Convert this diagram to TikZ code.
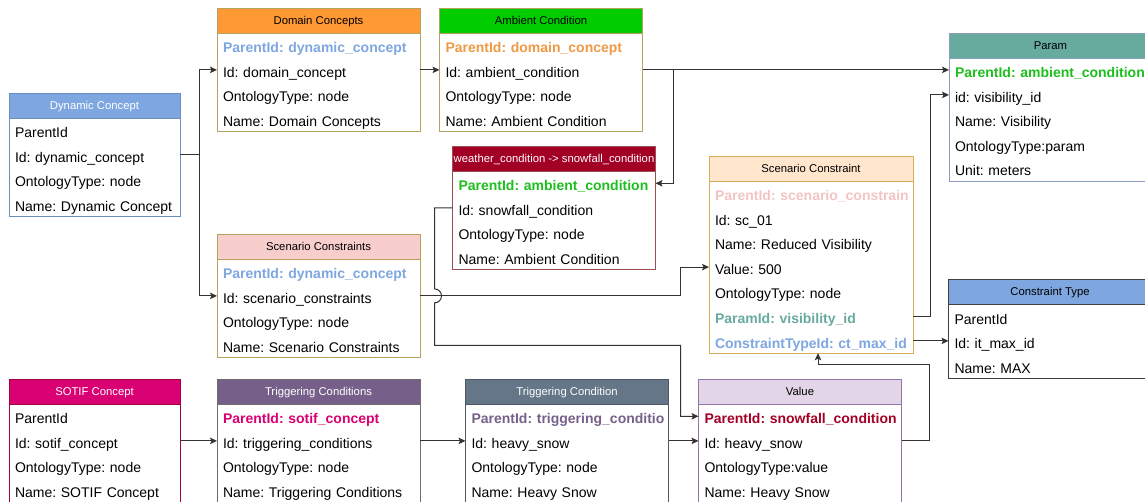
\documentclass[tikz,border=0pt]{standalone}
\usepackage{fontspec}
\setmainfont{Liberation Sans}
\usepackage{tikz}
\usetikzlibrary{arrows.meta, calc}
\usepackage{xcolor}
\frenchspacing

\definecolor{dynblue}{HTML}{7EA6E0}
\definecolor{dynline}{HTML}{6C8EBF}
\definecolor{domorange}{HTML}{FF9933}
\definecolor{pidorange}{HTML}{EE9944}
\definecolor{tanline}{HTML}{B5A160}
\definecolor{ambgreen}{HTML}{00CC00}
\definecolor{pidgreen}{HTML}{1CBF1C}
\definecolor{snowred}{HTML}{A20025}
\definecolor{snowline}{HTML}{9A5050}
\definecolor{scspink}{HTML}{F8CECC}
\definecolor{pidpink}{HTML}{F2C4C2}
\definecolor{scpeach}{HTML}{FFE6CC}
\definecolor{scline}{HTML}{D6AE5A}
\definecolor{parteal}{HTML}{67AB9F}
\definecolor{parline}{HTML}{8A9CC0}
\definecolor{ctline}{HTML}{404040}
\definecolor{sotifpink}{HTML}{D80073}
\definecolor{sotifline}{HTML}{A50040}
\definecolor{tcspurple}{HTML}{76608A}
\definecolor{tcsline}{HTML}{6D6D6D}
\definecolor{tcslate}{HTML}{647687}
\definecolor{tcline}{HTML}{4F5964}
\definecolor{vallilac}{HTML}{E1D5E7}
\definecolor{valline}{HTML}{9673A6}
\definecolor{linegray}{HTML}{333333}

\begin{document}
\begin{tikzpicture}[x=1pt, y=-1pt,
    head/.style={anchor=north west, minimum height=25pt, inner sep=0pt, outer sep=0pt, draw, line width=0.9pt, text height=8pt, text depth=0pt, font=\fontsize{11.3}{13}\selectfont},
    field/.style={anchor=north west, text width=#1, align=left, minimum height=24.6pt, inner xsep=6pt, inner ysep=0pt, outer sep=0pt, text height=14.6pt, text depth=0pt, font=\fontsize{14}{16}\selectfont},
    field/.default=191pt,
    frame/.style={line width=0.9pt},
    conn/.style={draw=linegray, line width=1pt, -{Stealth[length=7pt, width=6.5pt, inset=1.5pt]}}
]
\useasboundingbox (0,0) rectangle (1145,502);

% dynamic concept
\node[head, fill=dynblue, draw=dynline, text=white, minimum width=171pt] (dyn) at (9,93) {Dynamic Concept};
\foreach \t [count=\i] in {ParentId, Id: dynamic\_concept, OntologyType: node, Name: Dynamic Concept}
    \node[field=159pt] (dyn-\i) at ($(dyn.south west)+(0,{(\i-1)*24.6})$) {\mbox{\t}};
\draw[frame, dynline] (dyn.north west) rectangle (dyn-4.south east);

% domain concepts
\node[head, fill=domorange, draw=tanline, minimum width=203pt] (dom) at (217,8) {Domain Concepts};
\foreach \t [count=\i] in {\textbf{\color{dynblue}ParentId: dynamic\_concept}, Id: domain\_concept, OntologyType: node, Name: Domain Concepts}
    \node[field] (dom-\i) at ($(dom.south west)+(0,{(\i-1)*24.6})$) {\mbox{\t}};
\draw[frame, tanline] (dom.north west) rectangle (dom-4.south east);

% ambient condition
\node[head, fill=ambgreen, draw=tanline, minimum width=203pt] (amb) at (439.5,8) {Ambient Condition};
\foreach \t [count=\i] in {\textbf{\color{pidorange}ParentId: domain\_concept}, Id: ambient\_condition, OntologyType: node, Name: Ambient Condition}
    \node[field] (amb-\i) at ($(amb.south west)+(0,{(\i-1)*24.6})$) {\mbox{\t}};
\draw[frame, tanline] (amb.north west) rectangle (amb-4.south east);

% snowfall condition
\node[head, fill=snowred, draw=snowline, text=white, minimum width=203pt] (snow) at (452.5,146) {weather\_condition -> snowfall\_condition};
\foreach \t [count=\i] in {\textbf{\color{pidgreen}ParentId: ambient\_condition}, Id: snowfall\_condition, OntologyType: node, Name: Ambient Condition}
    \node[field] (snow-\i) at ($(snow.south west)+(0,{(\i-1)*24.6})$) {\mbox{\t}};
\draw[frame, snowline] (snow.north west) rectangle (snow-4.south east);

% scenario constraints
\node[head, fill=scspink, draw=tanline, minimum width=203pt] (scs) at (217,234) {Scenario Constraints};
\foreach \t [count=\i] in {\textbf{\color{dynblue}ParentId: dynamic\_concept}, Id: scenario\_constraints, OntologyType: node, Name: Scenario Constraints}
    \node[field] (scs-\i) at ($(scs.south west)+(0,{(\i-1)*24.6})$) {\mbox{\t}};
\draw[frame, tanline] (scs.north west) rectangle (scs-4.south east);

% scenario constraint
\node[head, fill=scpeach, draw=scline, minimum width=204pt] (sc) at (709,156) {Scenario Constraint};
\foreach \t [count=\i] in {\textbf{\color{pidpink}ParentId: scenario\_constrain}, Id: sc\_01, Name: Reduced Visibility, Value: 500, OntologyType: node, \textbf{\color{parteal}ParamId: visibility\_id}, \textbf{\color{dynblue}ConstraintTypeId: ct\_max\_id}}
    \node[field=192pt] (sc-\i) at ($(sc.south west)+(0,{(\i-1)*24.6})$) {\mbox{\t}};
\draw[frame, scline] (sc.north west) rectangle (sc-7.south east);

% param
\node[head, fill=parteal, draw=parline, minimum width=203pt] (par) at (949,33) {Param};
\foreach \t [count=\i] in {\textbf{\color{pidgreen}ParentId: ambient\_condition}, id: visibility\_id, Name: Visibility, OntologyType:param, Unit: meters}
    \node[field] (par-\i) at ($(par.south west)+(0,{(\i-1)*24.6})$) {\mbox{\t}};
\draw[frame, parline] (par.north west) rectangle (par-5.south east);

% constraint type
\node[head, fill=dynblue, draw=ctline, minimum width=203pt] (ct) at (948.5,279.5) {Constraint Type};
\foreach \t [count=\i] in {ParentId, Id: it\_max\_id, Name: MAX}
    \node[field] (ct-\i) at ($(ct.south west)+(0,{(\i-1)*24.6})$) {\mbox{\t}};
\draw[frame, ctline] (ct.north west) rectangle (ct-3.south east);

% sotif concept
\node[head, fill=sotifpink, draw=sotifline, text=white, minimum width=171pt] (sotif) at (9,379) {SOTIF Concept};
\foreach \t [count=\i] in {ParentId, Id: sotif\_concept, OntologyType: node, Name: SOTIF Concept}
    \node[field=159pt] (sotif-\i) at ($(sotif.south west)+(0,{(\i-1)*24.6})$) {\mbox{\t}};
\draw[frame, sotifline] (sotif.north west) rectangle (sotif-4.south east);

% triggering conditions
\node[head, fill=tcspurple, draw=tcsline, text=white, minimum width=203pt] (tcs) at (217,379) {Triggering Conditions};
\foreach \t [count=\i] in {\textbf{\color{sotifpink}ParentId: sotif\_concept}, Id: triggering\_conditions, OntologyType: node, Name: Triggering Conditions}
    \node[field] (tcs-\i) at ($(tcs.south west)+(0,{(\i-1)*24.6})$) {\mbox{\t}};
\draw[frame, tcsline] (tcs.north west) rectangle (tcs-4.south east);

% triggering condition
\node[head, fill=tcslate, draw=tcline, text=white, minimum width=203pt] (tc) at (465.5,379) {Triggering Condition};
\foreach \t [count=\i] in {\textbf{\color{tcspurple}ParentId: triggering\_conditio}, Id: heavy\_snow, OntologyType: node, Name: Heavy Snow}
    \node[field] (tc-\i) at ($(tc.south west)+(0,{(\i-1)*24.6})$) {\mbox{\t}};
\draw[frame, tcline] (tc.north west) rectangle (tc-4.south east);

% value
\node[head, fill=vallilac, draw=valline, minimum width=203pt] (val) at (698.5,379) {Value};
\foreach \t [count=\i] in {\textbf{\color{snowred}ParentId: snowfall\_condition}, Id: heavy\_snow, OntologyType:value, Name: Heavy Snow}
    \node[field] (val-\i) at ($(val.south west)+(0,{(\i-1)*24.6})$) {\mbox{\t}};
\draw[frame, valline] (val.north west) rectangle (val-4.south east);

% connectors
\draw[conn] (dyn-2.east) -- ++(19,0) |- (dom-2.west);
\draw[conn] (dyn-2.east) -- ++(19,0) |- (scs-2.west);
\draw[conn] (dom-2.east) -- (amb-2.west);
\draw[conn] (amb-2.east) -- (amb-2.east -| par-1.west);
\draw[conn] (amb-2.east) -- ++(31,0) |- (snow-1.east);
\draw[conn] (snow-2.west) -- ++(-18,0) coordinate (bend)
    -- ($(bend |- scs-2.east)+(0,-7)$) arc[start angle=90, end angle=-90, radius=7pt]
    -- ($(bend |- val-1.west)+(0,-71)$) -| ($(val-1.west)+(-18,0)$) -- (val-1.west);
\draw[conn] (scs-2.east) -- ++(260,0) |- (sc-4.west);
\draw[conn] (sc-6.east) -- ++(17,0) |- (par-2.west);
\draw[conn] (sc-7.east) -- (sc-7.east -| ct-2.west);
\draw[conn] (val-2.east) -- ++(28,0) -- ++(0,-76) -| ($(sc-7.south west)+(109,0)$);
\draw[conn] (sotif-2.east) -- (tcs-2.west);
\draw[conn] (tcs-2.east) -- (tc-2.west);
\draw[conn] (tc-2.east) -- (val-2.west);

\end{tikzpicture}
\end{document}
